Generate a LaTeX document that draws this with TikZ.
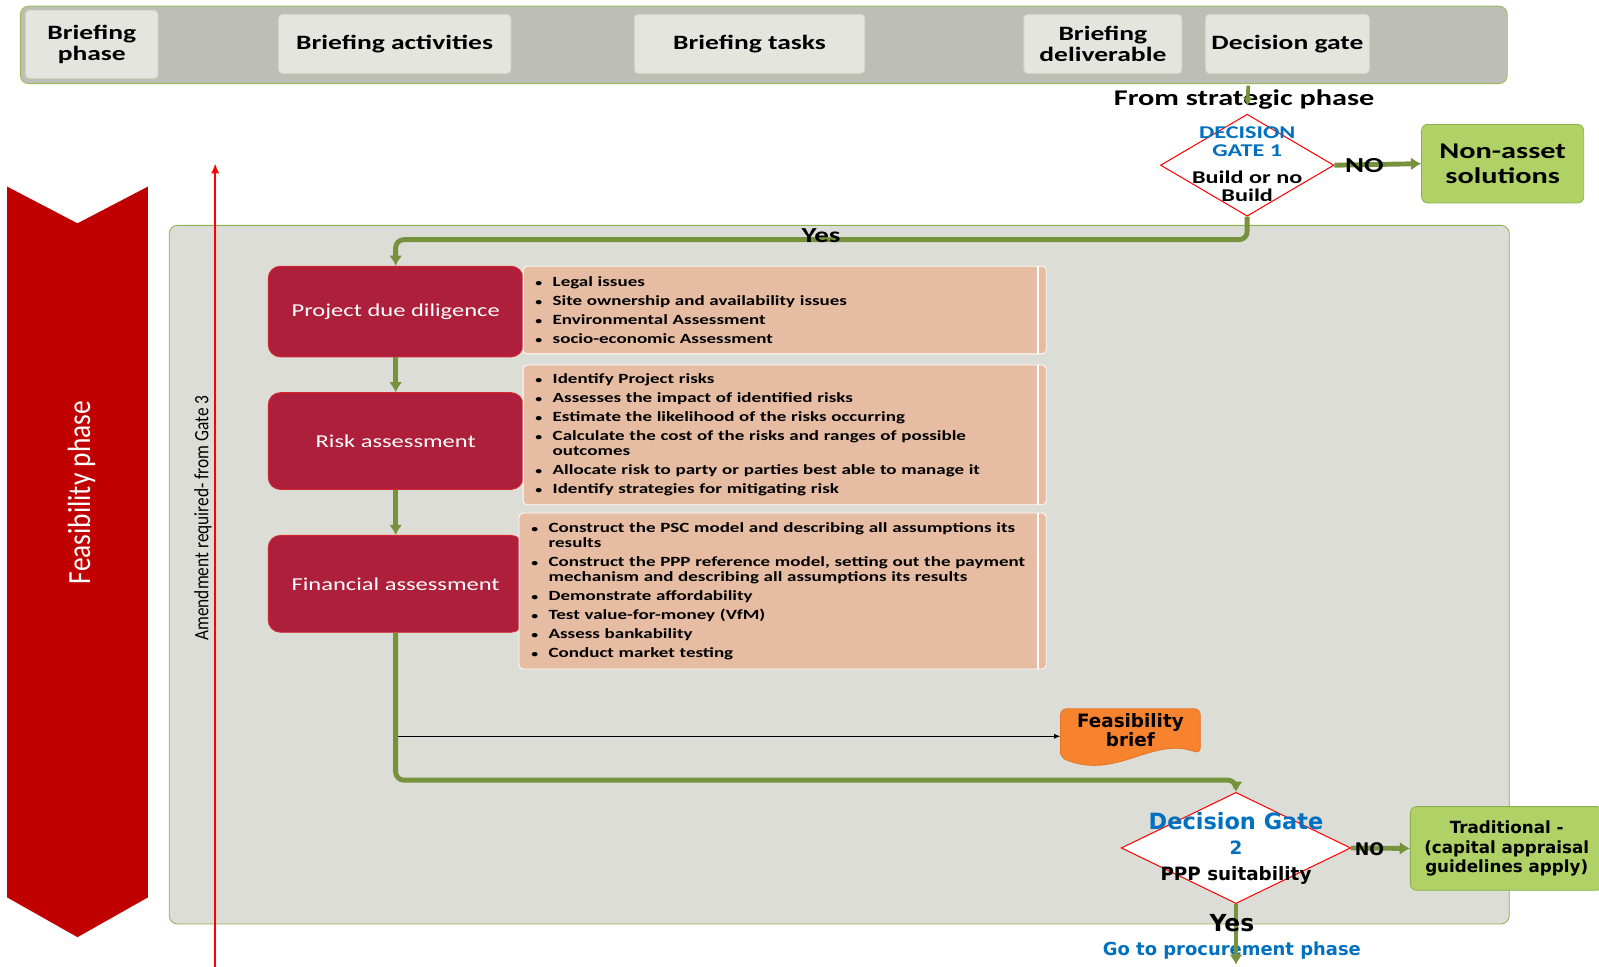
\documentclass[tikz,border=0pt]{standalone}
\usepackage{fontspec}
\setmainfont{Carlito}[FakeStretch=1.35]
\newfontfamily\narrowfont{Carlito}[FakeStretch=0.85]
\newfontfamily\verdfont{DejaVu Sans}
\usetikzlibrary{shapes.geometric}
\usetikzlibrary{arrows.meta}

\definecolor{barfill}{HTML}{BDBEB6}
\definecolor{barline}{HTML}{9BBB59}
\definecolor{hboxfill}{HTML}{E3E5DE}
\definecolor{hboxline}{HTML}{CFD8BC}
\definecolor{panelfill}{HTML}{DCDDD6}
\definecolor{panelline}{HTML}{8EB04C}
\definecolor{garrow}{HTML}{76923C}
\definecolor{actfill}{HTML}{AD1F3B}
\definecolor{actline}{HTML}{D9262E}
\definecolor{taskfill}{HTML}{E6BCA2}
\definecolor{phasered}{HTML}{C00000}
\definecolor{greenfill}{HTML}{B0D165}
\definecolor{greenline}{HTML}{8EB04C}
\definecolor{brieffill}{HTML}{F7832F}
\definecolor{briefline}{HTML}{E5742A}
\definecolor{gblue}{HTML}{0070C0}

\newcommand{\itm}{\makebox[8.5pt][l]{\fontsize{5}{5}\selectfont\textbullet}}
\newcommand{\cnt}{\hspace*{8.5pt}}

\tikzset{
  hbox/.style={draw=hboxline, fill=hboxfill, rounded corners=2pt, align=center,
    inner sep=0pt, font=\fontsize{10}{10.5}\selectfont\bfseries},
  actbox/.style={draw=actline, fill=actfill, rounded corners=6pt, text=white,
    minimum width=125pt, font=\fontsize{8.9}{10}\selectfont},
  taskbox/.style={draw=white, fill=taskfill, rounded corners=2pt, align=left,
    inner xsep=6pt, inner ysep=0pt, font=\fontsize{6.9}{7.5}\selectfont\bfseries,
    path picture={\draw[white, line width=0.8pt]
      ([xshift=-4pt]path picture bounding box.north east) --
      ([xshift=-4pt]path picture bounding box.south east);}},
  gatebox/.style={diamond, draw=red, fill=white, inner sep=0pt, line width=0.5pt},
  greenbox/.style={draw=greenline, fill=greenfill, rounded corners=3pt, align=center},
  gline/.style={draw=garrow, line width=2.4pt, rounded corners=4pt},
  garw/.style={gline, -{Latex[length=5pt,width=6.5pt]}},
}

\begin{document}
\begin{tikzpicture}[x=0.5pt,y=-0.5pt]
  \useasboundingbox (0,0) rectangle (1568,948);

  % header bar
  \draw[draw=barline, fill=barfill, rounded corners=4pt] (20,6) rectangle (1478,82);
  \node[hbox, minimum width=65pt, minimum height=33.5pt] (bphase) at (90,43.5) {Briefing\\phase};
  \node[hbox, minimum width=114pt, minimum height=29pt] (bact) at (387,43) {Briefing activities};
  \node[hbox, minimum width=113pt, minimum height=29pt] (btask) at (735,43) {Briefing tasks};
  \node[hbox, minimum width=77.5pt, minimum height=29pt] (bdel) at (1081.5,43) {Briefing\\deliverable};
  \node[hbox, minimum width=80.5pt, minimum height=29pt] (bgate) at (1262.5,43) {Decision gate};

  % phase chevron and amendment line
  \fill[phasered] (7,183) -- (76,219) -- (145,183) -- (145,880) -- (76,919) -- (7,880) -- cycle;
  \node[rotate=90, text=white, font=\narrowfont\fontsize{15.8}{16}\selectfont] (phase) at (80,483) {Feasibility phase};

  % main panel
  \draw[draw=panelline, fill=panelfill, rounded corners=4pt] (166,221) rectangle (1480,906);

  \coordinate (amdbot) at (211,948);
  \coordinate (amdtop) at (211,160);
  \draw[red, line width=1.2pt, -{Latex[length=5pt,width=4pt]}] (amdbot) -- (amdtop);
  \node[rotate=90, font=\narrowfont\fontsize{10}{11}\selectfont] (amd) at (199,508) {Amendment required- from Gate 3};

  % decision gate 1
  \node[font=\fontsize{11}{12}\selectfont\bfseries] (fromstr) at (1220,98) {From strategic phase};
  \coordinate (fromtop) at (1224,84);
  \node[gatebox, minimum width=85pt, minimum height=50pt] (gate1) at (1223,162) {};
  \node[align=center, font=\fontsize{8.8}{9}\selectfont\bfseries] (g1txt) at (1223,161)
    {\textcolor{gblue}{DECISION}\\\textcolor{gblue}{GATE 1}\\[4pt]Build or no\\Build};
  \draw[draw=garrow, line width=1.8pt, -{Latex[length=4pt,width=5pt]}, shorten >=4pt] (fromtop) -- (gate1.north);
  \node[greenbox, minimum width=79.5pt, minimum height=38.5pt, font=\fontsize{11}{12}\selectfont\bfseries] (nonasset) at (1473.5,160.5) {Non-asset\\solutions};
  \draw[garw] (gate1.east) -- (nonasset.west);
  \node[font=\fontsize{10.5}{11}\selectfont\bfseries] (no1) at (1338,162) {NO};

  % activities
  \node[actbox, minimum height=44.5pt] (pdd) at (388,305.5) {Project due diligence};
  \node[actbox, minimum height=47.5pt] (risk) at (388,432.5) {Risk assessment};
  \node[actbox, minimum height=47.5pt] (fin) at (388,572.5) {Financial assessment};

  \coordinate (yes1) at (805,235);
  \draw[garw] (gate1.south) |- (yes1) -| (pdd.north);
  \node[font=\fontsize{10.5}{11}\selectfont\bfseries] (yes1txt) at (805,231) {Yes};
  \draw[garw] (pdd.south) -- (risk.north);
  \draw[garw] (risk.south) -- (fin.north);

  % tasks
  \node[taskbox, minimum height=43pt, text width=244.5pt] (tdue) at (769.5,304)
    {\itm Legal issues\\[1.75pt]
     \itm Site ownership and availability issues\\[1.75pt]
     \itm Environmental Assessment\\[1.75pt]
     \itm socio-economic Assessment};
  \node[taskbox, minimum height=68.5pt, text width=244.5pt] (trisk) at (769.5,426.5)
    {\itm Identify Project risks\\[1.75pt]
     \itm Assesses the impact of identified risks\\[1.75pt]
     \itm Estimate the likelihood of the risks occurring\\[1.75pt]
     \itm Calculate the cost of the risks and ranges of possible\\
     \cnt outcomes\\[1.75pt]
     \itm Allocate risk to party or parties best able to manage it\\[1.75pt]
     \itm Identify strategies for mitigating risk};
  \node[taskbox, minimum height=76.5pt, text width=246.5pt] (tfin) at (767.5,579.5)
    {\itm Construct the PSC model and describing all assumptions its\\
     \cnt results\\[1.75pt]
     \itm Construct the PPP reference model, setting out the payment\\
     \cnt mechanism and describing all assumptions its results\\[1.75pt]
     \itm Demonstrate affordability\\[1.75pt]
     \itm Test value-for-money (VfM)\\[1.75pt]
     \itm Assess bankability\\[1.75pt]
     \itm Conduct market testing};

  % feasibility brief
  \draw[draw=briefline, fill=brieffill, rounded corners=3pt]
    (1040,743) -- (1040,695) -- (1177,695) -- (1177,739)
    .. controls (1130,722) and (1095,765) .. (1040,743) -- cycle;
  \node[align=center, minimum width=68.5pt, font=\verdfont\bfseries\fontsize{9}{9.5}\selectfont] (brief) at (1108.5,716) {Feasibility\\brief};
  \coordinate (tap) at (390,722);
  \draw[line width=0.4pt, -{Latex[length=3pt,width=2.5pt]}] (tap) -- (tap -| brief.west);

  % decision gate 2
  \node[gatebox, minimum width=112.5pt, minimum height=54.5pt] (gate2) at (1212,831.5) {};
  \coordinate (turn2) at (1212,765);
  \draw[garw] (fin.south) |- (turn2) -- (gate2.north);
  \node[text=gblue, font=\verdfont\bfseries\fontsize{11}{12}\selectfont] (g2title) at (1212,805) {Decision Gate};
  \node[text=gblue, font=\verdfont\bfseries\fontsize{9}{9}\selectfont] (g2num) at (1212,831) {2};
  \node[font=\verdfont\bfseries\fontsize{9}{10}\selectfont] (g2txt) at (1212,859) {PPP suitability};

  \node[greenbox, minimum width=94.5pt, minimum height=41pt, font=\verdfont\bfseries\fontsize{8.2}{9.5}\selectfont] (trad) at (1477.5,832)
    {Traditional -\\(capital appraisal\\guidelines apply)};
  \draw[garw] (gate2.east) -- (trad.west);
  \node[font=\verdfont\bfseries\fontsize{8.5}{9}\selectfont] (no2) at (1343,833) {NO};

  \node[text=gblue, font=\verdfont\bfseries\fontsize{8.8}{9}\selectfont] (goproc) at (1208,932) {Go to procurement phase};
  \coordinate (procend) at (1212,946);
  \draw[garw] (gate2.south) -- (procend);
  \node[font=\verdfont\bfseries\fontsize{11.5}{12}\selectfont] (yes2) at (1208,905) {Yes};
\end{tikzpicture}
\end{document}
